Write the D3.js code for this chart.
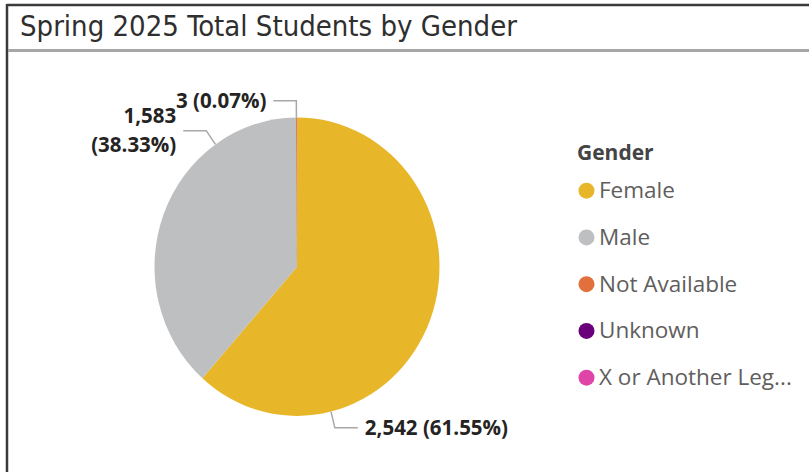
<!DOCTYPE html>
<html>
<head>
<meta charset="utf-8">
<script src="https://cdn.jsdelivr.net/npm/d3@7"></script>
<style>
  body { margin: 0; background: #fff; }
  svg { display: block; }
</style>
</head>
<body>
<div id="chart"></div>
<script>
// data
const genders = ["Female", "Male", "Not Available", "Unknown", "X or Another Leg..."];
const students = [2542, 1583, 3, 1, 1];
const percentLabels = ["61.55%", "38.33%", "0.07%", "", ""];
const colors = ["#E8B629", "#BEBFC1", "#E1703C", "#6B007B", "#E044A7"];

const W = 809, H = 472;
const svg = d3.select("#chart").append("svg")
  .attr("width", W)
  .attr("height", H);

// frame + title bar
svg.append("line").attr("x1", 7).attr("x2", W).attr("y1", 5).attr("y2", 5)
  .attr("stroke", "#3a3a3a").attr("stroke-width", 2.5);
svg.append("line").attr("x1", 7).attr("x2", 7).attr("y1", 4).attr("y2", H)
  .attr("stroke", "#3a3a3a").attr("stroke-width", 2.5);
svg.append("line").attr("x1", 8).attr("x2", W).attr("y1", 50.5).attr("y2", 50.5)
  .attr("stroke", "#a6a6a6").attr("stroke-width", 3);

svg.append("text")
  .attr("x", 20)
  .attr("y", 36)
  .attr("fill", "#2f2f2f")
  .style("font-family", "'DejaVu Sans Condensed', 'DejaVu Sans'")
  .style("font-stretch", "condensed")
  .style("font-size", "29px")
  .text("Spring 2025 Total Students by Gender");

// pie
const cx = 297, cy = 266.7, r = 142.5, sy = 1.047;
const pie = d3.pie().sort(null).value(d => d.value);
const arcs = pie(genders.map((g, i) => ({ name: g, value: students[i], color: colors[i], pct: percentLabels[i] })));
const arc = d3.arc().innerRadius(0).outerRadius(r);

svg.append("g")
  .attr("transform", `translate(${cx},${cy}) scale(1,${sy})`)
  .selectAll("path")
  .data(arcs)
  .enter()
  .append("path")
  .attr("d", arc)
  .attr("fill", d => d.data.color);

// point on the (slightly stretched) pie outline
const pt = (a, rad) => [cx + rad * Math.sin(a), cy - rad * Math.cos(a) * sy];

const fmt = d3.format(",");
const labelFont = "'Open Sans', 'Noto Sans', sans-serif";
const labelled = arcs.filter(d => d.data.pct !== "");

labelled.forEach(d => {
  const a = d.startAngle + (d.endAngle - d.startAngle) * 0.75;
  const side = Math.sin(a) >= 0 ? 1 : -1;
  const p0 = pt(a, r);
  const p1 = pt(a, r + 16);
  const p2 = [p1[0] + side * 23, p1[1]];

  svg.append("polyline")
    .attr("points", [p0, p1, p2].map(p => p.join(",")).join(" "))
    .attr("fill", "none")
    .attr("stroke", "#a8a8a8")
    .attr("stroke-width", 1.5);

  const full = `${fmt(d.data.value)} (${d.data.pct})`;
  const txt = svg.append("text")
    .attr("text-anchor", side > 0 ? "start" : "end")
    .attr("fill", "#252423")
    .style("font-family", labelFont)
    .style("font-weight", "bold")
    .style("font-size", "20.5px");

  // wrap long labels on the left side into two lines
  const lines = (side < 0 && d.data.value > 100) ? [fmt(d.data.value), `(${d.data.pct})`] : [full];
  const lh = 29;
  lines.forEach((s, i) => {
    txt.append("tspan")
      .attr("x", p2[0] + side * 7)
      .attr("y", p2[1] + 7 + (i - (lines.length - 1) / 2) * lh)
      .text(s);
  });
});

// legend
const legend = svg.append("g").attr("transform", "translate(577,0)");
legend.append("text")
  .attr("x", 0)
  .attr("y", 160)
  .attr("fill", "#444")
  .style("font-family", labelFont)
  .style("font-weight", "bold")
  .style("font-size", "21px")
  .text("Gender");

const ly = d3.scalePoint().domain(genders).range([190.7, 377.7]);

const items = legend.selectAll(".item")
  .data(genders)
  .enter()
  .append("g")
  .attr("class", "item")
  .attr("transform", g => `translate(0,${ly(g)})`);

items.append("circle")
  .attr("cx", 9.5)
  .attr("cy", 0)
  .attr("r", 8)
  .attr("fill", (g, i) => colors[i]);

items.append("text")
  .attr("x", 22)
  .attr("y", 7.5)
  .attr("fill", "#605E5C")
  .style("font-family", labelFont)
  .style("font-size", "22.5px")
  .text(g => g);
</script>
</body>
</html>
